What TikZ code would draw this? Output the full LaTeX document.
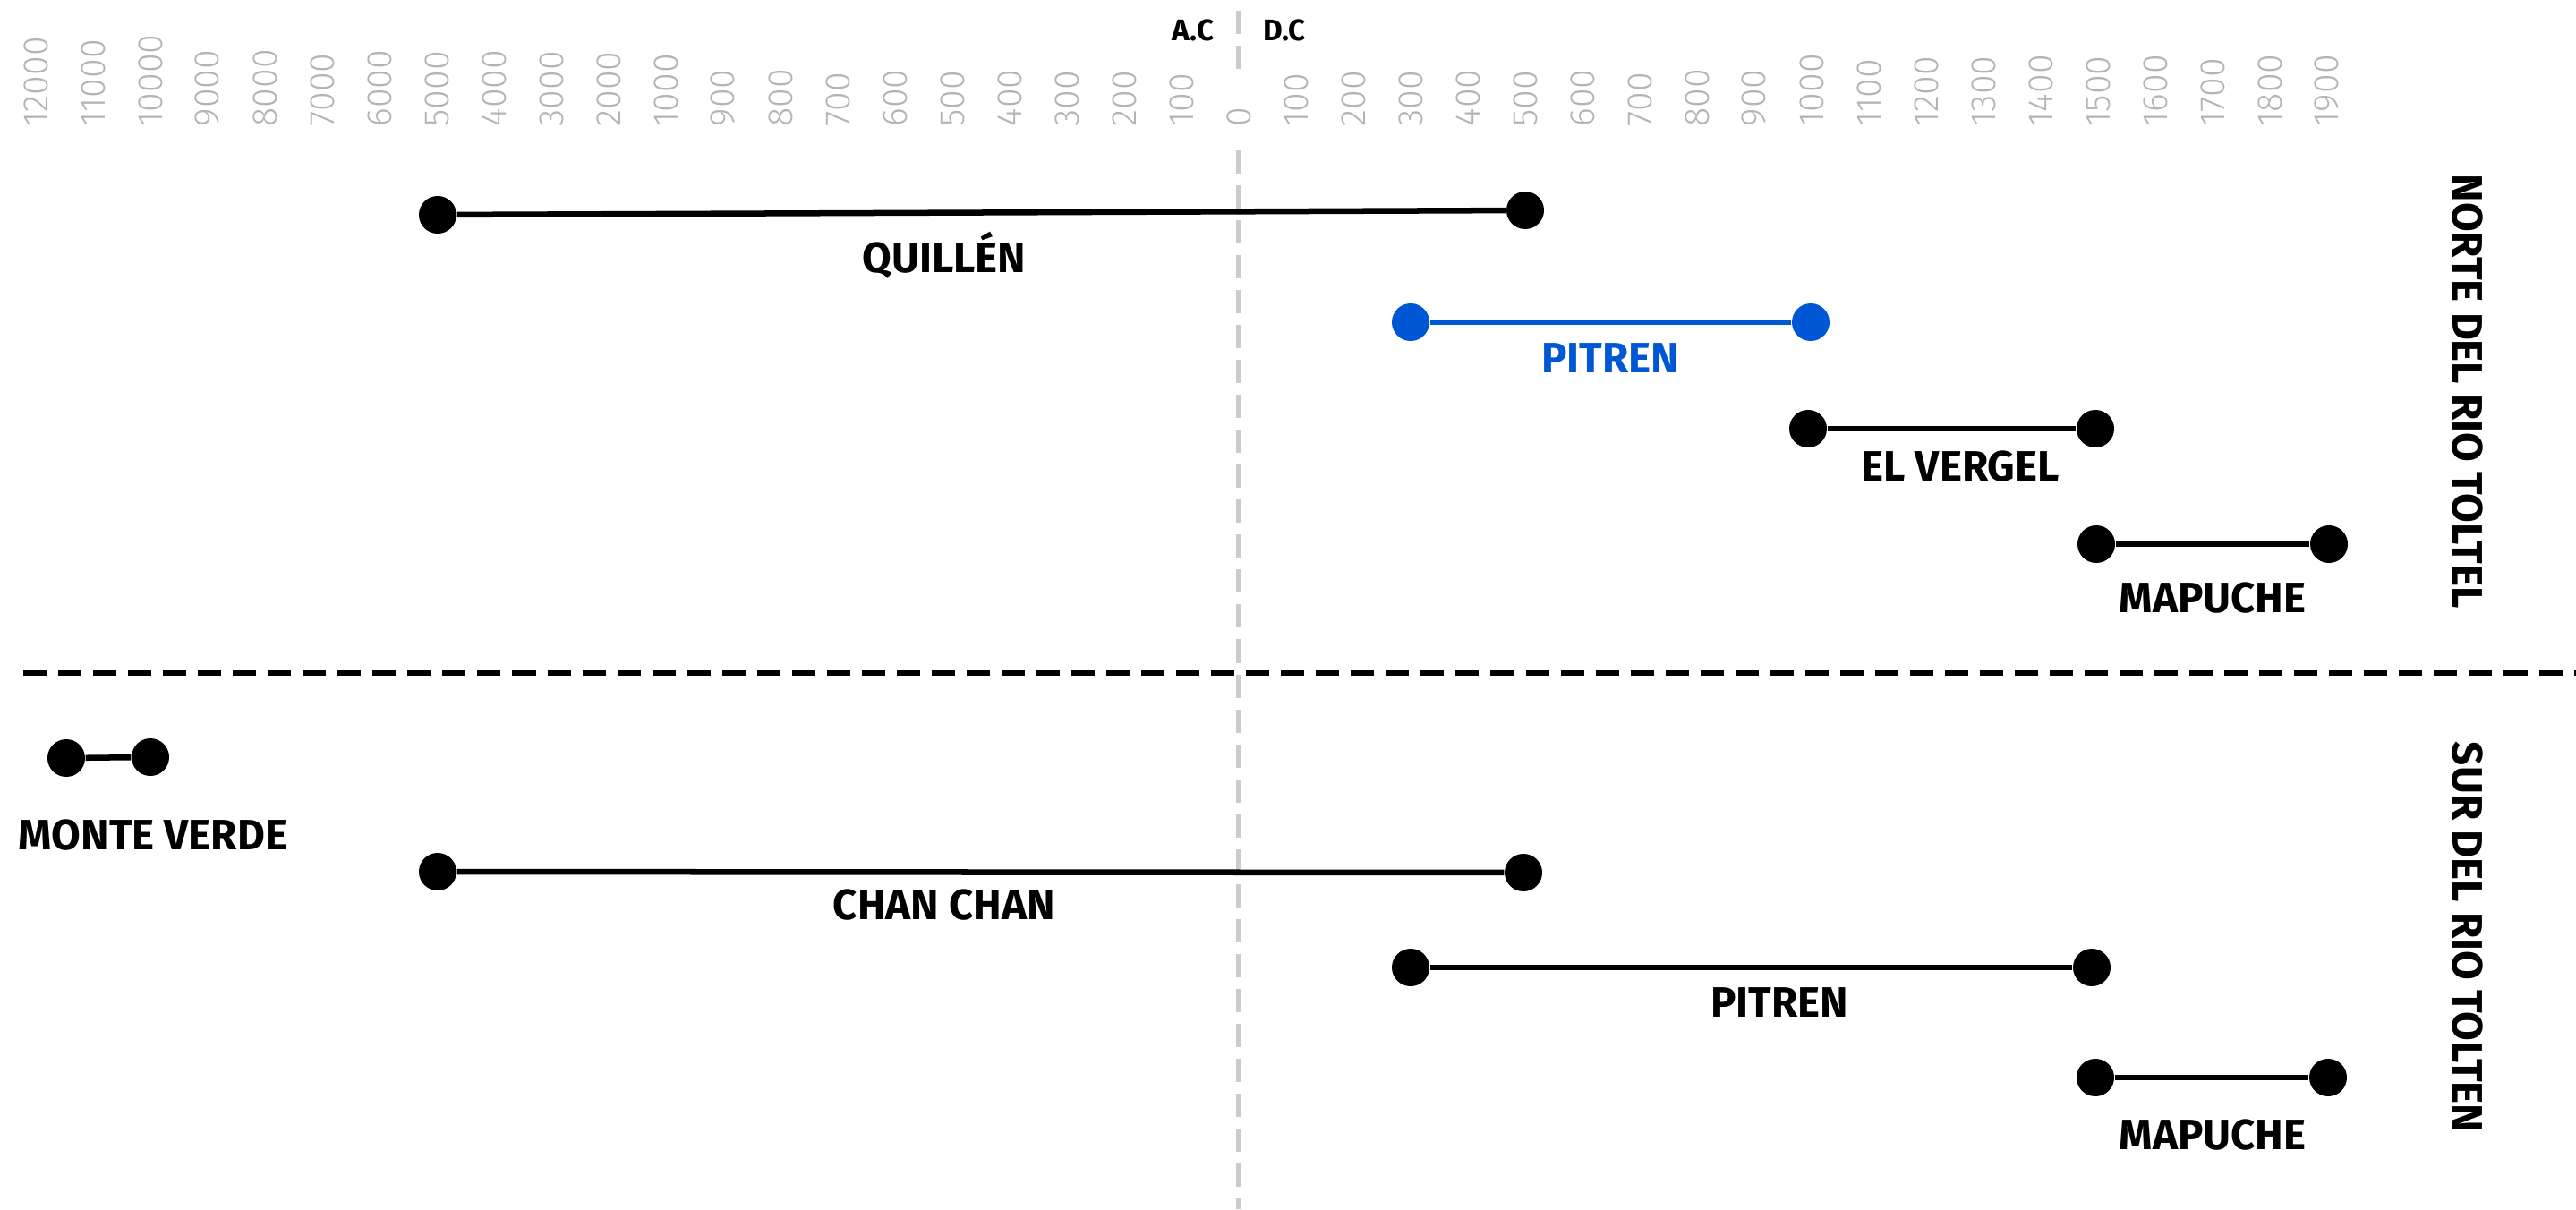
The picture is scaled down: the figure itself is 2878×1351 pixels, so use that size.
\documentclass[tikz,border=0pt]{standalone}
\usepackage{fontspec}
\setmainfont{Fira Sans}
\newfontfamily\tickfont{Fira Sans Light}
\definecolor{blu}{RGB}{0,87,212}
\definecolor{tickgray}{RGB}{180,180,180}
\definecolor{axisgray}{RGB}{204,204,204}
\begin{document}
\begin{tikzpicture}[x=0.01cm,y=-0.01cm,
  dot/.style={circle,fill=black,inner sep=0,minimum size=0.42cm},
  bluedot/.style={dot,fill=blu},
  spanline/.style={line width=1.85pt},
  lbl/.style={font=\fontsize{13.5}{16}\selectfont\bfseries,inner sep=0},
  ticklbl/.style={font=\tickfont\fontsize{11.2}{13}\selectfont,text=tickgray,rotate=90,anchor=west,inner sep=0},
  era/.style={font=\fontsize{9.5}{11}\selectfont\bfseries,inner sep=0},
  region/.style={lbl,rotate=-90},
  axisline/.style={axisgray,line width=1.7pt,dash pattern=on 7.4pt off 3.7pt},
  divline/.style={black,line width=1.7pt,dash pattern=on 7.4pt off 3.7pt}]
\useasboundingbox (0,0) rectangle (2878,1351);
\fill[white] (0,0) rectangle (2878,1351);

% central axis A.C / D.C
\coordinate (vtop) at (1384,12);
\coordinate (vmid) at (1384,77);
\coordinate (vlow) at (1384,168);
\coordinate (vbot) at (1384,1351);
\draw[axisline] (vtop) -- (vmid);
\draw[axisline] (vlow) -- (vbot);
\node[era] (ac) at (1333,34) {A.C};
\node[era] (dc) at (1435,34) {D.C};

% tick labels
\foreach \t [count=\i from 0] in {12000,11000,10000,9000,8000,7000,6000,5000,4000,3000,2000,1000,900,800,700,600,500,400,300,200,100,0,100,200,300,400,500,600,700,800,900,1000,1100,1200,1300,1400,1500,1600,1700,1800,1900}
  \node[ticklbl] (t\i) at ({40+64*\i},142) {\t};

% divider
\coordinate (hl) at (26,752);
\coordinate (hr) at (2878,752);
\draw[divline] (hl) -- (hr);

% region titles
\node[region] (norte) at (2757,437) {NORTE DEL RIO TOLTEL};
\node[region] (sur) at (2757,1047) {SUR DEL RIO TOLTEN};

% north spans
\node[dot] (q1) at (489,240) {};
\node[dot] (q2) at (1704,235) {};
\draw[spanline] (q1) -- (q2);
\node[lbl] (ql) at (1055,285) {QUILLÉN};

\node[bluedot] (p1) at (1576,360) {};
\node[bluedot] (p2) at (2023,360) {};
\draw[spanline,blu] (p1) -- (p2);
\node[lbl,text=blu] (pl) at (1799,400) {PITREN};

\node[dot] (e1) at (2020,479) {};
\node[dot] (e2) at (2341,479) {};
\draw[spanline] (e1) -- (e2);
\node[lbl] (el) at (2190,521) {EL VERGEL};

\node[dot] (m1) at (2342,608) {};
\node[dot] (m2) at (2602,608) {};
\draw[spanline] (m1) -- (m2);
\node[lbl] (ml) at (2472,668) {MAPUCHE};

% south spans
\node[dot] (mv1) at (74,847) {};
\node[dot] (mv2) at (168,846) {};
\draw[spanline] (mv1) -- (mv2);
\node[lbl] (mvl) at (171,933) {MONTE VERDE};

\node[dot] (c1) at (489,974) {};
\node[dot] (c2) at (1702,975) {};
\draw[spanline] (c1) -- (c2);
\node[lbl] (cl) at (1055,1011) {CHAN CHAN};

\node[dot] (ps1) at (1576,1081) {};
\node[dot] (ps2) at (2337,1081) {};
\draw[spanline] (ps1) -- (ps2);
\node[lbl] (psl) at (1988,1120) {PITREN};

\node[dot] (ms1) at (2341,1204) {};
\node[dot] (ms2) at (2601,1204) {};
\draw[spanline] (ms1) -- (ms2);
\node[lbl] (msl) at (2472,1268) {MAPUCHE};
\end{tikzpicture}
\end{document}
